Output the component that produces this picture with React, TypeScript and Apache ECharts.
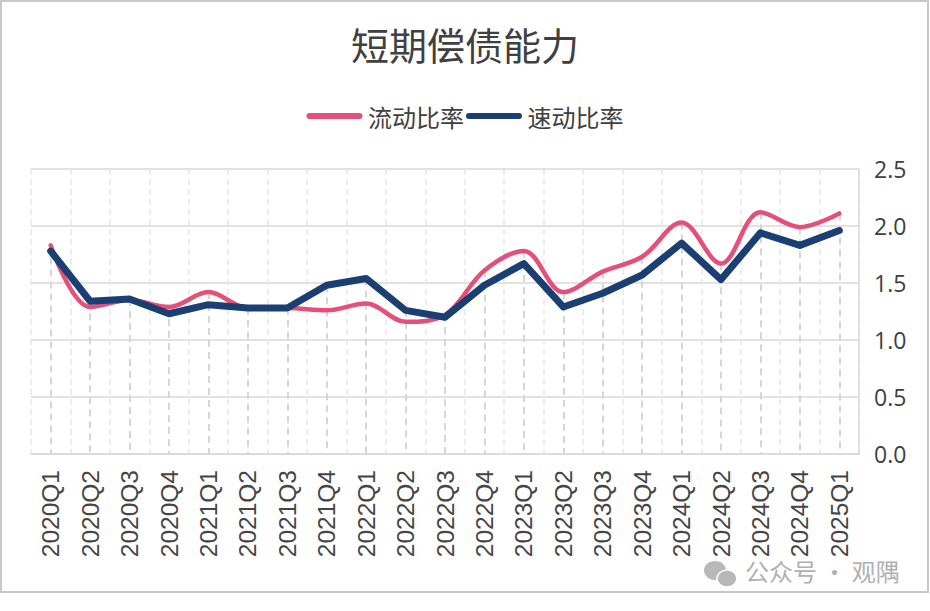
import React, { useEffect, useRef } from "react";
import * as echarts from "echarts";

const categories = [
  "2020Q1", "2020Q2", "2020Q3", "2020Q4",
  "2021Q1", "2021Q2", "2021Q3", "2021Q4",
  "2022Q1", "2022Q2", "2022Q3", "2022Q4",
  "2023Q1", "2023Q2", "2023Q3", "2023Q4",
  "2024Q1", "2024Q2", "2024Q3", "2024Q4",
  "2025Q1",
];
const currentRatio = [
  1.83, 1.29, 1.35, 1.29, 1.42, 1.28, 1.28, 1.26, 1.32, 1.16, 1.22,
  1.61, 1.78, 1.42, 1.6, 1.73, 2.03, 1.67, 2.12, 1.99, 2.11,
];
const quickRatio = [
  1.78, 1.34, 1.36, 1.23, 1.31, 1.28, 1.28, 1.48, 1.54, 1.26, 1.2,
  1.48, 1.67, 1.29, 1.41, 1.57, 1.85, 1.53, 1.94, 1.83, 1.96,
];
const yTicks = [0, 0.5, 1.0, 1.5, 2.0, 2.5];
const seriesNames = ["流动比率", "速动比率"];
const titleText = "短期偿债能力";
const watermark = "公众号 · 观隅";

const PINK = "#e5507a";
const BLUE = "#1b3f73";
const TEXT = "#404040";
const CJK = "'Noto Sans CJK SC', 'Microsoft YaHei', sans-serif";

// Drop lines from the highest of both series at each category down to the axis
function dropLines() {
  return categories.map((c, i) => [
    { coord: [c, Math.max(currentRatio[i], quickRatio[i])] },
    { coord: [c, 0] },
  ]);
}

export default function App() {
  const ref = useRef<HTMLDivElement>(null);
  useEffect(() => {
    if (!ref.current) return;
    const chart = echarts.init(ref.current, null, { renderer: "svg" });
    const pill = "path://M3,0 L53,0 A3,3 0 0 1 53,6 L3,6 A3,3 0 0 1 3,0 Z";
    chart.setOption({
      animation: false,
      backgroundColor: "#ffffff",
      title: {
        text: titleText,
        left: "center",
        top: 19,
        textStyle: {
          fontSize: 38,
          fontWeight: "normal",
          color: TEXT,
          fontFamily: CJK,
        },
      },
      legend: {
        top: 99,
        left: "center",
        itemGap: 2,
        itemWidth: 57,
        itemHeight: 6,
        data: [
          { name: seriesNames[0], icon: pill, itemStyle: { color: PINK } },
          { name: seriesNames[1], icon: pill, itemStyle: { color: BLUE } },
        ],
        textStyle: { fontSize: 24, color: TEXT, fontFamily: CJK, padding: [0, 0, 0, 0] },
      },
      grid: { left: 31, right: 71, top: 169, bottom: 157 },
      xAxis: {
        type: "category",
        data: categories,
        boundaryGap: true,
        axisLine: { show: true, lineStyle: { color: "#d9d9d9", width: 1.5 } },
        axisTick: { show: false },
        splitLine: {
          show: true,
          lineStyle: { color: "#e8e8e8", type: [6, 4], width: 1.5 },
        },
        axisLabel: {
          rotate: 90,
          interval: 0,
          margin: 16,
          fontSize: 24.5,
          color: "#454545",
          fontFamily: "'Liberation Sans', Arial, sans-serif",
        },
      },
      yAxis: {
        type: "value",
        position: "right",
        min: yTicks[0],
        max: yTicks[yTicks.length - 1],
        interval: 0.5,
        axisLine: { show: true, lineStyle: { color: "#d9d9d9", width: 1.5 } },
        axisTick: { show: false },
        splitLine: { show: true, lineStyle: { color: "#d9d9d9", width: 1.5 } },
        axisLabel: {
          margin: 15,
          fontSize: 23,
          color: TEXT,
          fontFamily: "'Open Sans', 'Noto Sans', sans-serif",
          formatter: (v: number) => v.toFixed(1),
        },
      },
      graphic: [
        {
          type: "rect",
          shape: { x: 1, y: 1, width: 927, height: 591 },
          style: { fill: "none", stroke: "#c8c8c8", lineWidth: 2 },
          silent: true,
          z: 100,
        },
        {
          type: "text",
          left: 745,
          top: 558,
          style: {
            text: watermark,
            fontSize: 24,
            fill: "#b0b0b0",
            fontFamily: CJK,
          },
        },
        {
          type: "group",
          left: 704,
          top: 561,
          children: [
            { type: "ellipse", shape: { cx: 12, cy: 10, rx: 11, ry: 9.5 }, style: { fill: "#b8b8b8" } },
            { type: "ellipse", shape: { cx: 24, cy: 18, rx: 10, ry: 8.5 }, style: { fill: "#b8b8b8", stroke: "#fff", lineWidth: 1.5 } },
          ],
        },
      ],
      series: [
        {
          name: seriesNames[0],
          type: "line",
          data: currentRatio,
          smooth: 0.35,
          symbol: "none",
          lineStyle: { color: PINK, width: 4.5, cap: "round", join: "round" },
          itemStyle: { color: PINK },
          z: 3,
          markLine: {
            silent: true,
            symbol: ["none", "none"],
            label: { show: false },
            lineStyle: { color: "#d6d6d6", type: [7, 5], width: 2 },
            data: dropLines(),
            z: 1,
          },
        },
        {
          name: seriesNames[1],
          type: "line",
          data: quickRatio,
          smooth: false,
          symbol: "none",
          lineStyle: { color: BLUE, width: 7, cap: "round", join: "round" },
          itemStyle: { color: BLUE },
          z: 4,
        },
      ],
    });
    return () => chart.dispose();
  }, []);
  return (
    <div
      ref={ref}
      style={{ position: "fixed", left: 0, top: 0, width: 930, height: 611 }}
    />
  );
}
